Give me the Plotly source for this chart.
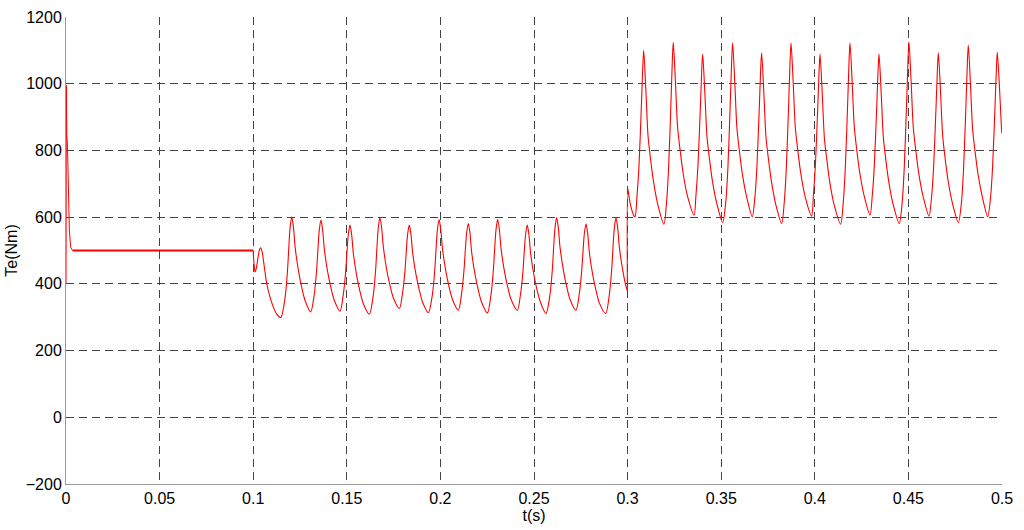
import plotly.graph_objects as go

# ---- data (t in s, Te in N·m) ----
t_start = [0.0000, 0.0002, 0.0004, 0.0008, 0.0012, 0.0018, 0.0025, 0.0035]
te_start = [400, 995, 850, 810, 690, 560, 510, 500]

t_steady = [0.0035, 0.0080, 0.0130, 0.0180, 0.0230, 0.0280, 0.0330, 0.0380, 0.0430, 0.0480,
            0.0530, 0.0580, 0.0630, 0.0680, 0.0730, 0.0780, 0.0830, 0.0880, 0.0930, 0.0980, 0.1000]
te_steady = [500, 500, 499, 500, 499, 499, 498, 499, 499, 500,
             500, 500, 499, 500, 500, 500, 500, 500, 500, 500, 500]

t_mid = [0.1000, 0.1003, 0.1007, 0.1010, 0.1016, 0.1026, 0.1034, 0.1040, 0.1048, 0.1056,
         0.1064, 0.1072, 0.1090, 0.1107, 0.1125, 0.1147,
         0.1170, 0.1183, 0.1190, 0.1197, 0.1206, 0.1215, 0.1224, 0.1242, 0.1259, 0.1277, 0.1307,
         0.1326, 0.1339, 0.1346, 0.1353, 0.1362, 0.1371, 0.1380, 0.1398, 0.1415, 0.1433, 0.1464,
         0.1481, 0.1494, 0.1501, 0.1508, 0.1517, 0.1526, 0.1535, 0.1553, 0.1570, 0.1588, 0.1620,
         0.1641, 0.1654, 0.1661, 0.1668, 0.1677, 0.1686, 0.1695, 0.1713, 0.1730, 0.1748, 0.1781,
         0.1798, 0.1811, 0.1818, 0.1825, 0.1834, 0.1843, 0.1852, 0.1870, 0.1887, 0.1905, 0.1936,
         0.1957, 0.1970, 0.1977, 0.1984, 0.1993, 0.2002, 0.2011, 0.2029, 0.2046, 0.2064, 0.2096,
         0.2113, 0.2126, 0.2133, 0.2140, 0.2149, 0.2158, 0.2167, 0.2185, 0.2202, 0.2220, 0.2251,
         0.2270, 0.2283, 0.2290, 0.2297, 0.2306, 0.2315, 0.2324, 0.2342, 0.2359, 0.2377, 0.2411,
         0.2428, 0.2441, 0.2448, 0.2455, 0.2464, 0.2473, 0.2482, 0.2500, 0.2517, 0.2535, 0.2564,
         0.2585, 0.2598, 0.2605, 0.2612, 0.2621, 0.2630, 0.2639, 0.2657, 0.2674, 0.2692, 0.2724,
         0.2742, 0.2755, 0.2762, 0.2769, 0.2778, 0.2787, 0.2796, 0.2814, 0.2831, 0.2849, 0.2883,
         0.2902, 0.2915, 0.2922, 0.2929, 0.2938, 0.2947, 0.2956, 0.2974, 0.2991, 0.2999]
te_mid = [500, 470, 445, 436, 445, 480, 503, 508, 495, 465,
          432, 401, 360, 331, 310, 299,
          357, 438, 507, 568, 601, 570, 510, 439, 390, 350, 316,
          368, 443, 506, 561, 591, 561, 504, 435, 389, 351, 318,
          367, 437, 496, 548, 576, 547, 491, 424, 378, 341, 309,
          364, 442, 509, 567, 599, 569, 512, 443, 397, 359, 326,
          374, 441, 499, 549, 576, 547, 492, 427, 382, 345, 314,
          367, 442, 507, 562, 593, 563, 506, 438, 392, 354, 321,
          370, 441, 500, 552, 581, 552, 495, 428, 383, 345, 313,
          366, 442, 506, 562, 593, 563, 506, 438, 392, 354, 321,
          369, 438, 497, 548, 576, 547, 491, 425, 380, 344, 311,
          366, 443, 510, 567, 599, 568, 510, 441, 393, 354, 321,
          370, 440, 499, 551, 579, 550, 493, 426, 381, 343, 311,
          366, 443, 510, 567, 599, 568, 510, 441, 393, 380]

t_high = [0.2999, 0.3001, 0.3008, 0.3016, 0.3026, 0.3034, 0.3040,
          0.3050, 0.3061, 0.3074, 0.3081, 0.3086, 0.3098, 0.3109, 0.3122, 0.3139, 0.3162, 0.3194,
          0.3208, 0.3219, 0.3232, 0.3239, 0.3244, 0.3256, 0.3267, 0.3280, 0.3297, 0.3320, 0.3355,
          0.3365, 0.3376, 0.3389, 0.3396, 0.3401, 0.3413, 0.3424, 0.3437, 0.3454, 0.3477, 0.3508,
          0.3525, 0.3536, 0.3549, 0.3556, 0.3561, 0.3573, 0.3584, 0.3597, 0.3614, 0.3637, 0.3666,
          0.3680, 0.3691, 0.3704, 0.3711, 0.3716, 0.3728, 0.3739, 0.3752, 0.3769, 0.3792, 0.3823,
          0.3837, 0.3848, 0.3861, 0.3868, 0.3873, 0.3885, 0.3896, 0.3909, 0.3926, 0.3949, 0.3983,
          0.3992, 0.4003, 0.4016, 0.4023, 0.4028, 0.4040, 0.4051, 0.4064, 0.4081, 0.4104, 0.4138,
          0.4152, 0.4163, 0.4176, 0.4183, 0.4188, 0.4200, 0.4211, 0.4224, 0.4241, 0.4264, 0.4295,
          0.4307, 0.4318, 0.4331, 0.4338, 0.4343, 0.4355, 0.4366, 0.4379, 0.4396, 0.4419, 0.4451,
          0.4467, 0.4478, 0.4491, 0.4498, 0.4503, 0.4515, 0.4526, 0.4539, 0.4556, 0.4579, 0.4610,
          0.4624, 0.4635, 0.4648, 0.4655, 0.4660, 0.4672, 0.4683, 0.4696, 0.4713, 0.4736, 0.4767,
          0.4784, 0.4795, 0.4808, 0.4815, 0.4820, 0.4832, 0.4843, 0.4856, 0.4873, 0.4896, 0.4924,
          0.4939, 0.4950, 0.4963, 0.4970, 0.4975, 0.4989, 0.4998, 0.5000]
te_high = [379, 685, 660, 635, 615, 604, 601,
           661, 756, 940, 1050, 1100, 975, 845, 777, 704, 636, 579,
           644, 748, 950, 1070, 1124, 1000, 870, 803, 730, 663, 606,
           664, 756, 934, 1041, 1089, 968, 842, 776, 705, 640, 584,
           649, 751, 951, 1069, 1123, 998, 867, 799, 726, 658, 601,
           660, 754, 936, 1044, 1093, 970, 842, 776, 704, 637, 581,
           646, 749, 950, 1069, 1123, 998, 868, 801, 728, 660, 603,
           661, 754, 933, 1040, 1089, 967, 839, 773, 701, 635, 579,
           644, 748, 949, 1069, 1123, 999, 870, 802, 730, 663, 606,
           664, 756, 934, 1041, 1089, 967, 840, 774, 703, 637, 581,
           646, 750, 952, 1072, 1126, 1000, 870, 802, 729, 661, 603,
           662, 755, 936, 1044, 1093, 971, 844, 777, 706, 640, 584,
           648, 749, 946, 1063, 1116, 992, 864, 797, 725, 658, 601,
           660, 754, 936, 1045, 1094, 961, 860, 851]

x_ticks = [0, 0.05, 0.1, 0.15, 0.2, 0.25, 0.3, 0.35, 0.4, 0.45, 0.5]
y_ticks = [-200, 0, 200, 400, 600, 800, 1000, 1200]

RED = "rgb(255,0,0)"
fig = go.Figure()
fig.add_trace(go.Scatter(x=t_start, y=te_start, mode="lines",
                         line=dict(color=RED, width=1.0), showlegend=False))
fig.add_trace(go.Scatter(x=t_steady, y=te_steady, mode="lines",
                         line=dict(color=RED, width=2.2), showlegend=False))
fig.add_trace(go.Scatter(x=t_mid, y=te_mid, mode="lines",
                         line=dict(color=RED, width=1.1, shape="spline", smoothing=0.8),
                         showlegend=False))
fig.add_trace(go.Scatter(x=t_high, y=te_high, mode="lines",
                         line=dict(color=RED, width=1.1, shape="spline", smoothing=0.8),
                         showlegend=False))

axis_font = dict(family="Liberation Sans, Arial, sans-serif", size=16, color="black")
fig.update_xaxes(range=[0, 0.5], tickvals=x_ticks, ticktext=[str(v) for v in x_ticks],
                 showgrid=True, gridcolor="#444444", gridwidth=1, griddash="8px,5px",
                 showline=True, linecolor="#999999", linewidth=1, zeroline=False,
                 ticks="", tickfont=axis_font, automargin=False,
                 title=dict(text="t(s)", font=axis_font, standoff=2))
fig.update_yaxes(range=[-200, 1200], tickvals=y_ticks,
                 showgrid=True, gridcolor="#444444", gridwidth=1, griddash="8px,5px",
                 showline=True, linecolor="#999999", linewidth=1, zeroline=False,
                 ticks="", tickfont=axis_font, automargin=False,
                 title=dict(text="Te(Nm)", font=axis_font, standoff=4))
fig.update_layout(width=1024, height=530, margin=dict(l=66, r=22, t=17, b=46),
                  plot_bgcolor="white", paper_bgcolor="white")
fig.write_html("out.html", config={"displayModeBar": False})

# remove the browser's default page margin so the figure sits at the window origin
with open("out.html", encoding="utf-8") as f:
    html = f.read()
html = html.replace("<head>", "<head><style>html,body{margin:0;padding:0;overflow:hidden;}</style>", 1)
with open("out.html", "w", encoding="utf-8") as f:
    f.write(html)
